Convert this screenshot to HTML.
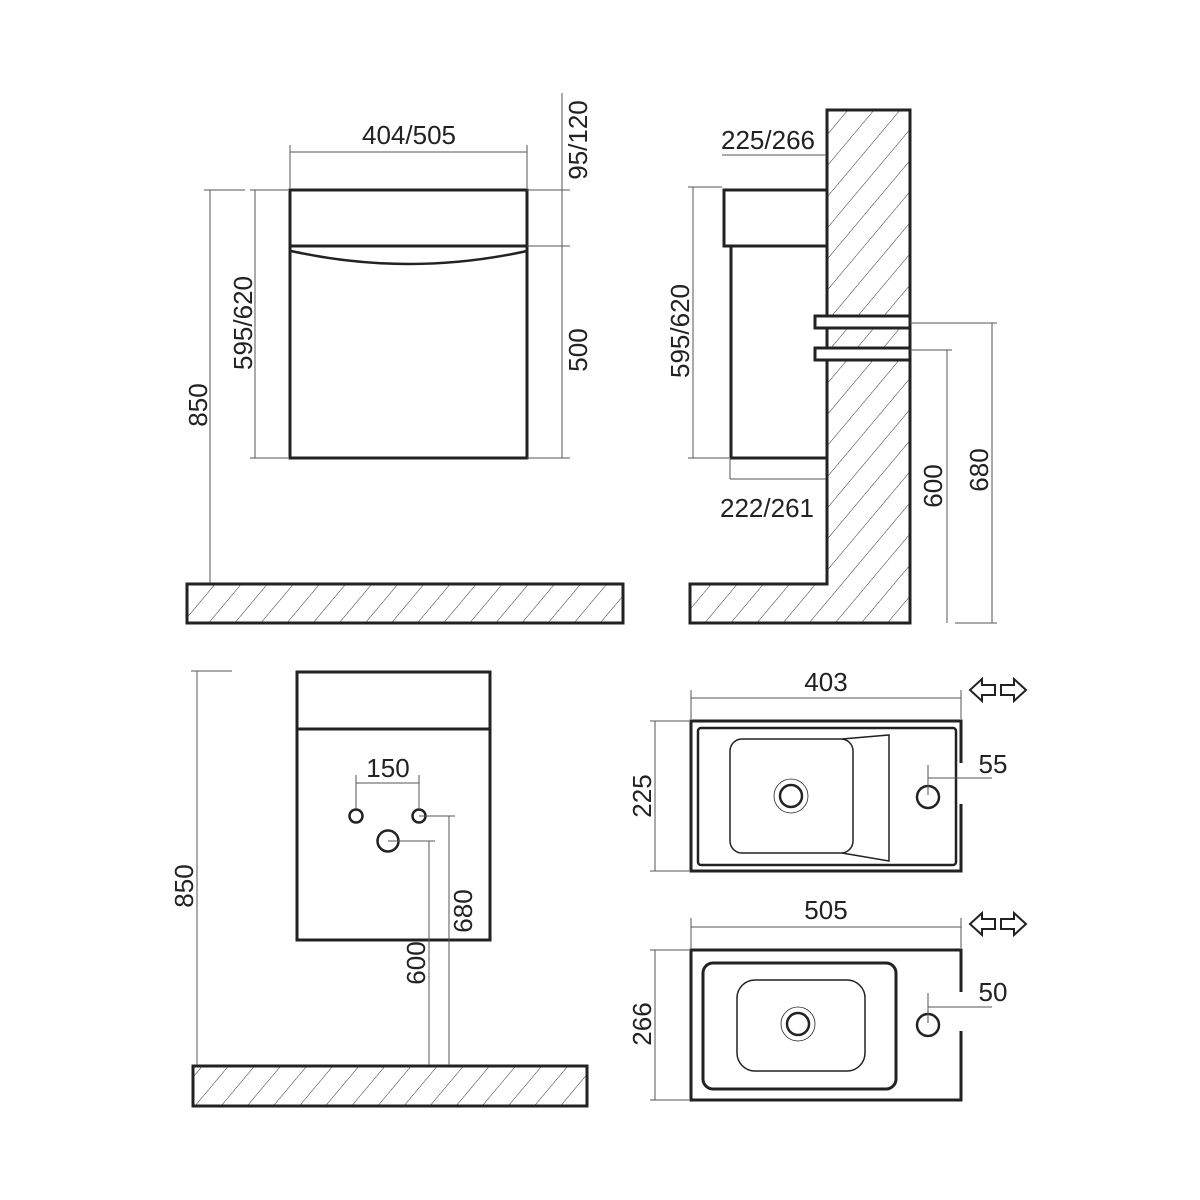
<!DOCTYPE html>
<html><head><meta charset="utf-8"><style>
html,body{margin:0;padding:0;background:#fff}
svg{display:block}
text{font-family:"Liberation Sans",sans-serif;font-size:26px;fill:#222}
</style></head><body>
<svg width="1200" height="1200" viewBox="0 0 1200 1200" xmlns="http://www.w3.org/2000/svg">
<defs>
<pattern id="h" width="20" height="20" patternUnits="userSpaceOnUse" patternTransform="rotate(40)">
<line x1="0" y1="0" x2="0" y2="20" stroke="#333" stroke-width="1"/>
</pattern>
</defs>
<g fill="none" stroke="#222">
<rect x="187" y="584" width="436" height="39" fill="url(#h)" stroke-width="3"/>
<rect x="290" y="190" width="237" height="268" stroke-width="3"/>
<line x1="290" y1="246" x2="527" y2="246" stroke-width="3"/>
<path d="M291 251 Q409 277 527 251" stroke-width="2.5"/>
<g stroke="#555" stroke-width="1">
<line x1="290" y1="145" x2="290" y2="188"/><line x1="527" y1="145" x2="527" y2="188"/>
<line x1="290" y1="152" x2="527" y2="152"/>
<line x1="562" y1="93" x2="562" y2="458"/>
<line x1="527" y1="190" x2="570" y2="190"/><line x1="527" y1="246" x2="570" y2="246"/>
<line x1="527" y1="458" x2="570" y2="458"/>
<line x1="255" y1="190" x2="255" y2="458"/>
<line x1="250" y1="190" x2="288" y2="190"/><line x1="250" y1="458" x2="288" y2="458"/>
<line x1="210" y1="190" x2="210" y2="583"/>
<line x1="204" y1="190" x2="245" y2="190"/>
</g>
<path d="M827 110 H910 V623 H690 V584 H827 Z" fill="url(#h)" stroke-width="3"/>
<rect x="724" y="190" width="103" height="56" fill="#fff" stroke-width="3"/>
<rect x="731" y="246" width="96" height="212" fill="#fff" stroke-width="3"/>
<rect x="815" y="316" width="95" height="12" fill="#fff" stroke-width="3"/>
<rect x="815" y="348" width="95" height="12" fill="#fff" stroke-width="3"/>
<g stroke="#555" stroke-width="1">
<line x1="722" y1="155" x2="826" y2="155"/>
<line x1="693" y1="187" x2="693" y2="458"/>
<line x1="688" y1="187" x2="722" y2="187"/><line x1="688" y1="458" x2="729" y2="458"/>
<line x1="730" y1="458" x2="730" y2="479"/><line x1="730" y1="479" x2="826" y2="479"/>
<line x1="910" y1="350" x2="952" y2="350"/><line x1="947" y1="350" x2="947" y2="623"/>
<line x1="910" y1="323" x2="997" y2="323"/><line x1="992" y1="323" x2="992" y2="623"/>
<line x1="955" y1="623" x2="997" y2="623"/>
</g>
<rect x="193" y="1066" width="394" height="40" fill="url(#h)" stroke-width="3"/>
<rect x="297" y="672" width="193" height="268" stroke-width="3"/>
<line x1="297" y1="729" x2="490" y2="729" stroke-width="3"/>
<circle cx="356" cy="816" r="6.5" stroke-width="2.5"/>
<circle cx="419" cy="816" r="6.5" stroke-width="2.5"/>
<circle cx="388" cy="841" r="10.5" stroke-width="2.5"/>
<g stroke="#555" stroke-width="1">
<line x1="356" y1="775" x2="356" y2="808"/><line x1="419" y1="775" x2="419" y2="808"/>
<line x1="356" y1="783" x2="419" y2="783"/>
<line x1="419" y1="816" x2="455" y2="816"/><line x1="449" y1="816" x2="449" y2="1065"/>
<line x1="388" y1="841" x2="435" y2="841"/><line x1="429" y1="841" x2="429" y2="1065"/>
<line x1="197" y1="671" x2="197" y2="1065"/><line x1="191" y1="671" x2="232" y2="671"/>
</g>
<path d="M961 763 V721 H691 V871 H961 V804" stroke-width="3"/>
<rect x="698" y="728" width="258" height="137" rx="3" stroke-width="2.5"/>
<rect x="730" y="739" width="123" height="114" rx="12" stroke-width="1.5"/>
<path d="M842 739 L889 735 V861 L842 853" stroke-width="1.5"/>
<circle cx="791" cy="796" r="11" stroke-width="2.5"/>
<circle cx="791" cy="796" r="17" stroke-width="0.8"/>
<circle cx="928" cy="797" r="11" stroke-width="2.5"/>
<g stroke="#555" stroke-width="1">
<line x1="691" y1="690" x2="691" y2="719"/><line x1="961" y1="690" x2="961" y2="719"/>
<line x1="691" y1="698" x2="961" y2="698"/>
<line x1="928" y1="765" x2="928" y2="795"/><line x1="928" y1="778" x2="992" y2="778"/>
<line x1="655" y1="721" x2="655" y2="871"/>
<line x1="650" y1="721" x2="689" y2="721"/><line x1="650" y1="871" x2="689" y2="871"/>
</g>
<path d="M961 992 V950 H691 V1100 H961 V1031" stroke-width="3"/>
<rect x="703" y="963" width="193" height="126" rx="10" stroke-width="3"/>
<rect x="737" y="980" width="128" height="91" rx="18" stroke-width="1.5"/>
<circle cx="798" cy="1024" r="11" stroke-width="2.5"/>
<circle cx="798" cy="1024" r="17" stroke-width="0.8"/>
<circle cx="928" cy="1025" r="11" stroke-width="2.5"/>
<g stroke="#555" stroke-width="1">
<line x1="691" y1="918" x2="691" y2="948"/><line x1="961" y1="918" x2="961" y2="948"/>
<line x1="691" y1="927" x2="961" y2="927"/>
<line x1="928" y1="993" x2="928" y2="1023"/><line x1="928" y1="1007" x2="992" y2="1007"/>
<line x1="655" y1="950" x2="655" y2="1100"/>
<line x1="650" y1="950" x2="689" y2="950"/><line x1="650" y1="1100" x2="689" y2="1100"/>
</g>
<g stroke-width="2">
<path d="M970 690 L982 679 V685 H995 V695 H982 V701 Z"/>
<path d="M1026 690 L1014 679 V685 H1001 V695 H1014 V701 Z"/>
<path d="M970 924 L982 913 V919 H995 V929 H982 V935 Z"/>
<path d="M1026 924 L1014 913 V919 H1001 V929 H1014 V935 Z"/>
</g>
</g>
<text x="409" y="144" text-anchor="middle">404/505</text>
<text transform="translate(587,140) rotate(-90)" text-anchor="middle">95/120</text>
<text transform="translate(587,350) rotate(-90)" text-anchor="middle">500</text>
<text transform="translate(252,323) rotate(-90)" text-anchor="middle">595/620</text>
<text transform="translate(207,405) rotate(-90)" text-anchor="middle">850</text>
<text x="768" y="149" text-anchor="middle">225/266</text>
<text transform="translate(689,331) rotate(-90)" text-anchor="middle">595/620</text>
<text x="767" y="517" text-anchor="middle">222/261</text>
<text transform="translate(942,486) rotate(-90)" text-anchor="middle">600</text>
<text transform="translate(988,470) rotate(-90)" text-anchor="middle">680</text>
<text x="388" y="777" text-anchor="middle">150</text>
<text transform="translate(472,911) rotate(-90)" text-anchor="middle">680</text>
<text transform="translate(425,963) rotate(-90)" text-anchor="middle">600</text>
<text transform="translate(193,886) rotate(-90)" text-anchor="middle">850</text>
<text x="826" y="691" text-anchor="middle">403</text>
<text x="993" y="773" text-anchor="middle">55</text>
<text transform="translate(651,796) rotate(-90)" text-anchor="middle">225</text>
<text x="826" y="919" text-anchor="middle">505</text>
<text x="993" y="1001" text-anchor="middle">50</text>
<text transform="translate(651,1024) rotate(-90)" text-anchor="middle">266</text>
</svg>
</body></html>
